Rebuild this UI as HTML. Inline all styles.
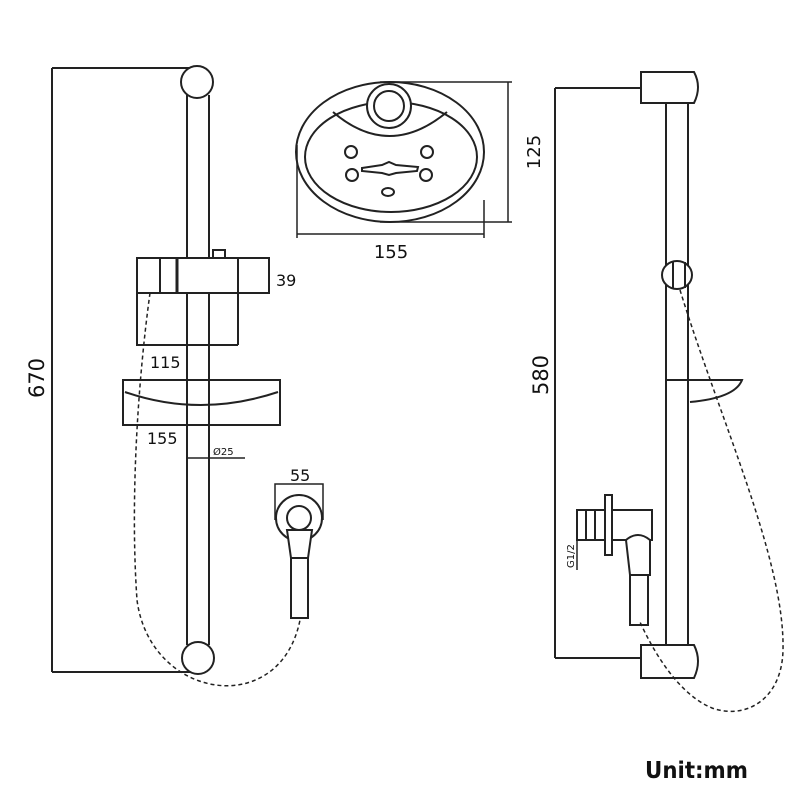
<!DOCTYPE html>
<html><head><style>body{margin:0;background:#fff}svg{display:block}text{font-family:"DejaVu Sans","Liberation Sans",sans-serif;fill:#111}</style></head><body>
<svg width="800" height="800" viewBox="0 0 800 800" fill="none" stroke="#222" stroke-width="2">
<!-- LEFT -->
<path d="M52 68V672M52 68H197M52 672H200"/>
<text x="44" y="378" font-size="21" transform="rotate(-90 44 378)" text-anchor="middle" stroke="none">670</text>
<path d="M187 95V645M209 95V645" />
<circle cx="197" cy="82" r="16" fill="#fff"/>
<circle cx="198" cy="658" r="16" fill="#fff"/>
<rect x="137" y="258" width="132" height="35" fill="#fff"/>
<path d="M160 258V293M238 258V345M137 293V345H238" />
<path d="M177 258V293" stroke-width="3"/>
<rect x="213" y="250" width="12" height="8"/>
<text x="276" y="286" font-size="16" stroke="none">39</text>
<text x="150" y="368" font-size="16" stroke="none">115</text>
<rect x="123" y="380" width="157" height="45" fill="#fff"/>
<path d="M125 392Q200 418 278 392"/>
<path d="M187 380V425M209 380V425"/>
<text x="147" y="444" font-size="16" stroke="none">155</text>
<path d="M187 458H245" stroke-width="1.5"/>
<text x="213" y="455" font-size="10" stroke="none">Ø25</text>
<path d="M150 293C138 380 130 500 137 600C150 700 280 720 300 620" stroke-dasharray="4 3" stroke-width="1.5"/>
<text x="290" y="481" font-size="16" stroke="none">55</text>
<path d="M275 520V484H323V520" stroke-width="1.5"/>
<circle cx="299" cy="518" r="23"/>
<circle cx="299" cy="518" r="12"/>
<path d="M287 530H312L308 558H291Z" fill="#fff"/>
<rect x="291" y="558" width="17" height="60" fill="#fff"/>
<!-- SOAP DISH -->
<ellipse cx="390" cy="152" rx="94" ry="70"/>
<ellipse cx="391" cy="157" rx="86" ry="55"/>
<path d="M333 112Q389 160 447 112"/>
<circle cx="389" cy="106" r="22" fill="#fff"/>
<circle cx="389" cy="106" r="15"/>
<circle cx="351" cy="152" r="6"/><circle cx="427" cy="152" r="6"/>
<circle cx="352" cy="175" r="6"/><circle cx="426" cy="175" r="6"/>
<path d="M362 168L382 165L389 162L396 165L418 167L417 171L396 173L389 175L382 173L362 171Z"/>
<ellipse cx="388" cy="192" rx="6" ry="4"/>
<path d="M380 82H512M380 222H512M508 82V222" stroke-width="1.5"/>
<text x="540" y="152" font-size="18" transform="rotate(-90 540 152)" text-anchor="middle" stroke="none">125</text>
<path d="M297 145V238M484 200V238M297 234H484" stroke-width="1.5"/>
<text x="391" y="258" font-size="18" text-anchor="middle" stroke="none">155</text>
<!-- RIGHT -->
<path d="M555 88V658M555 88H641M555 658H641"/>
<text x="548" y="375" font-size="21" transform="rotate(-90 548 375)" text-anchor="middle" stroke="none">580</text>
<path d="M666 95V650M688 95V650"/>
<path d="M641 72H694Q702 87 694 103H641Z" fill="#fff"/>
<path d="M641 645H694Q702 661 694 678H641Z" fill="#fff"/>
<ellipse cx="677" cy="275" rx="15" ry="14" fill="#fff"/>
<path d="M673 262V288M685 262V288"/>
<path d="M666 380H742Q735 398 690 402"/>
<rect x="577" y="510" width="75" height="30" fill="#fff"/>
<path d="M586 510V540M595 510V540"/>
<rect x="605" y="495" width="7" height="60" fill="#fff"/>
<path d="M577 540V570" stroke-width="1.5"/>
<text x="574" y="568" font-size="10" transform="rotate(-90 574 568)" stroke="none">G1/2</text>
<path d="M626 540Q638 530 650 540V575H630Z" fill="#fff"/>
<rect x="630" y="575" width="18" height="50" fill="#fff"/>
<path d="M680 290C720 420 785 560 783 650C782 700 745 720 712 708C680 695 655 655 640 622" stroke-dasharray="4 3" stroke-width="1.5"/>
<text x="645" y="778" font-size="23" stroke="none" font-weight="bold" fill="#333" textLength="103" lengthAdjust="spacingAndGlyphs">Unit:mm</text>
</svg>
</body></html>
